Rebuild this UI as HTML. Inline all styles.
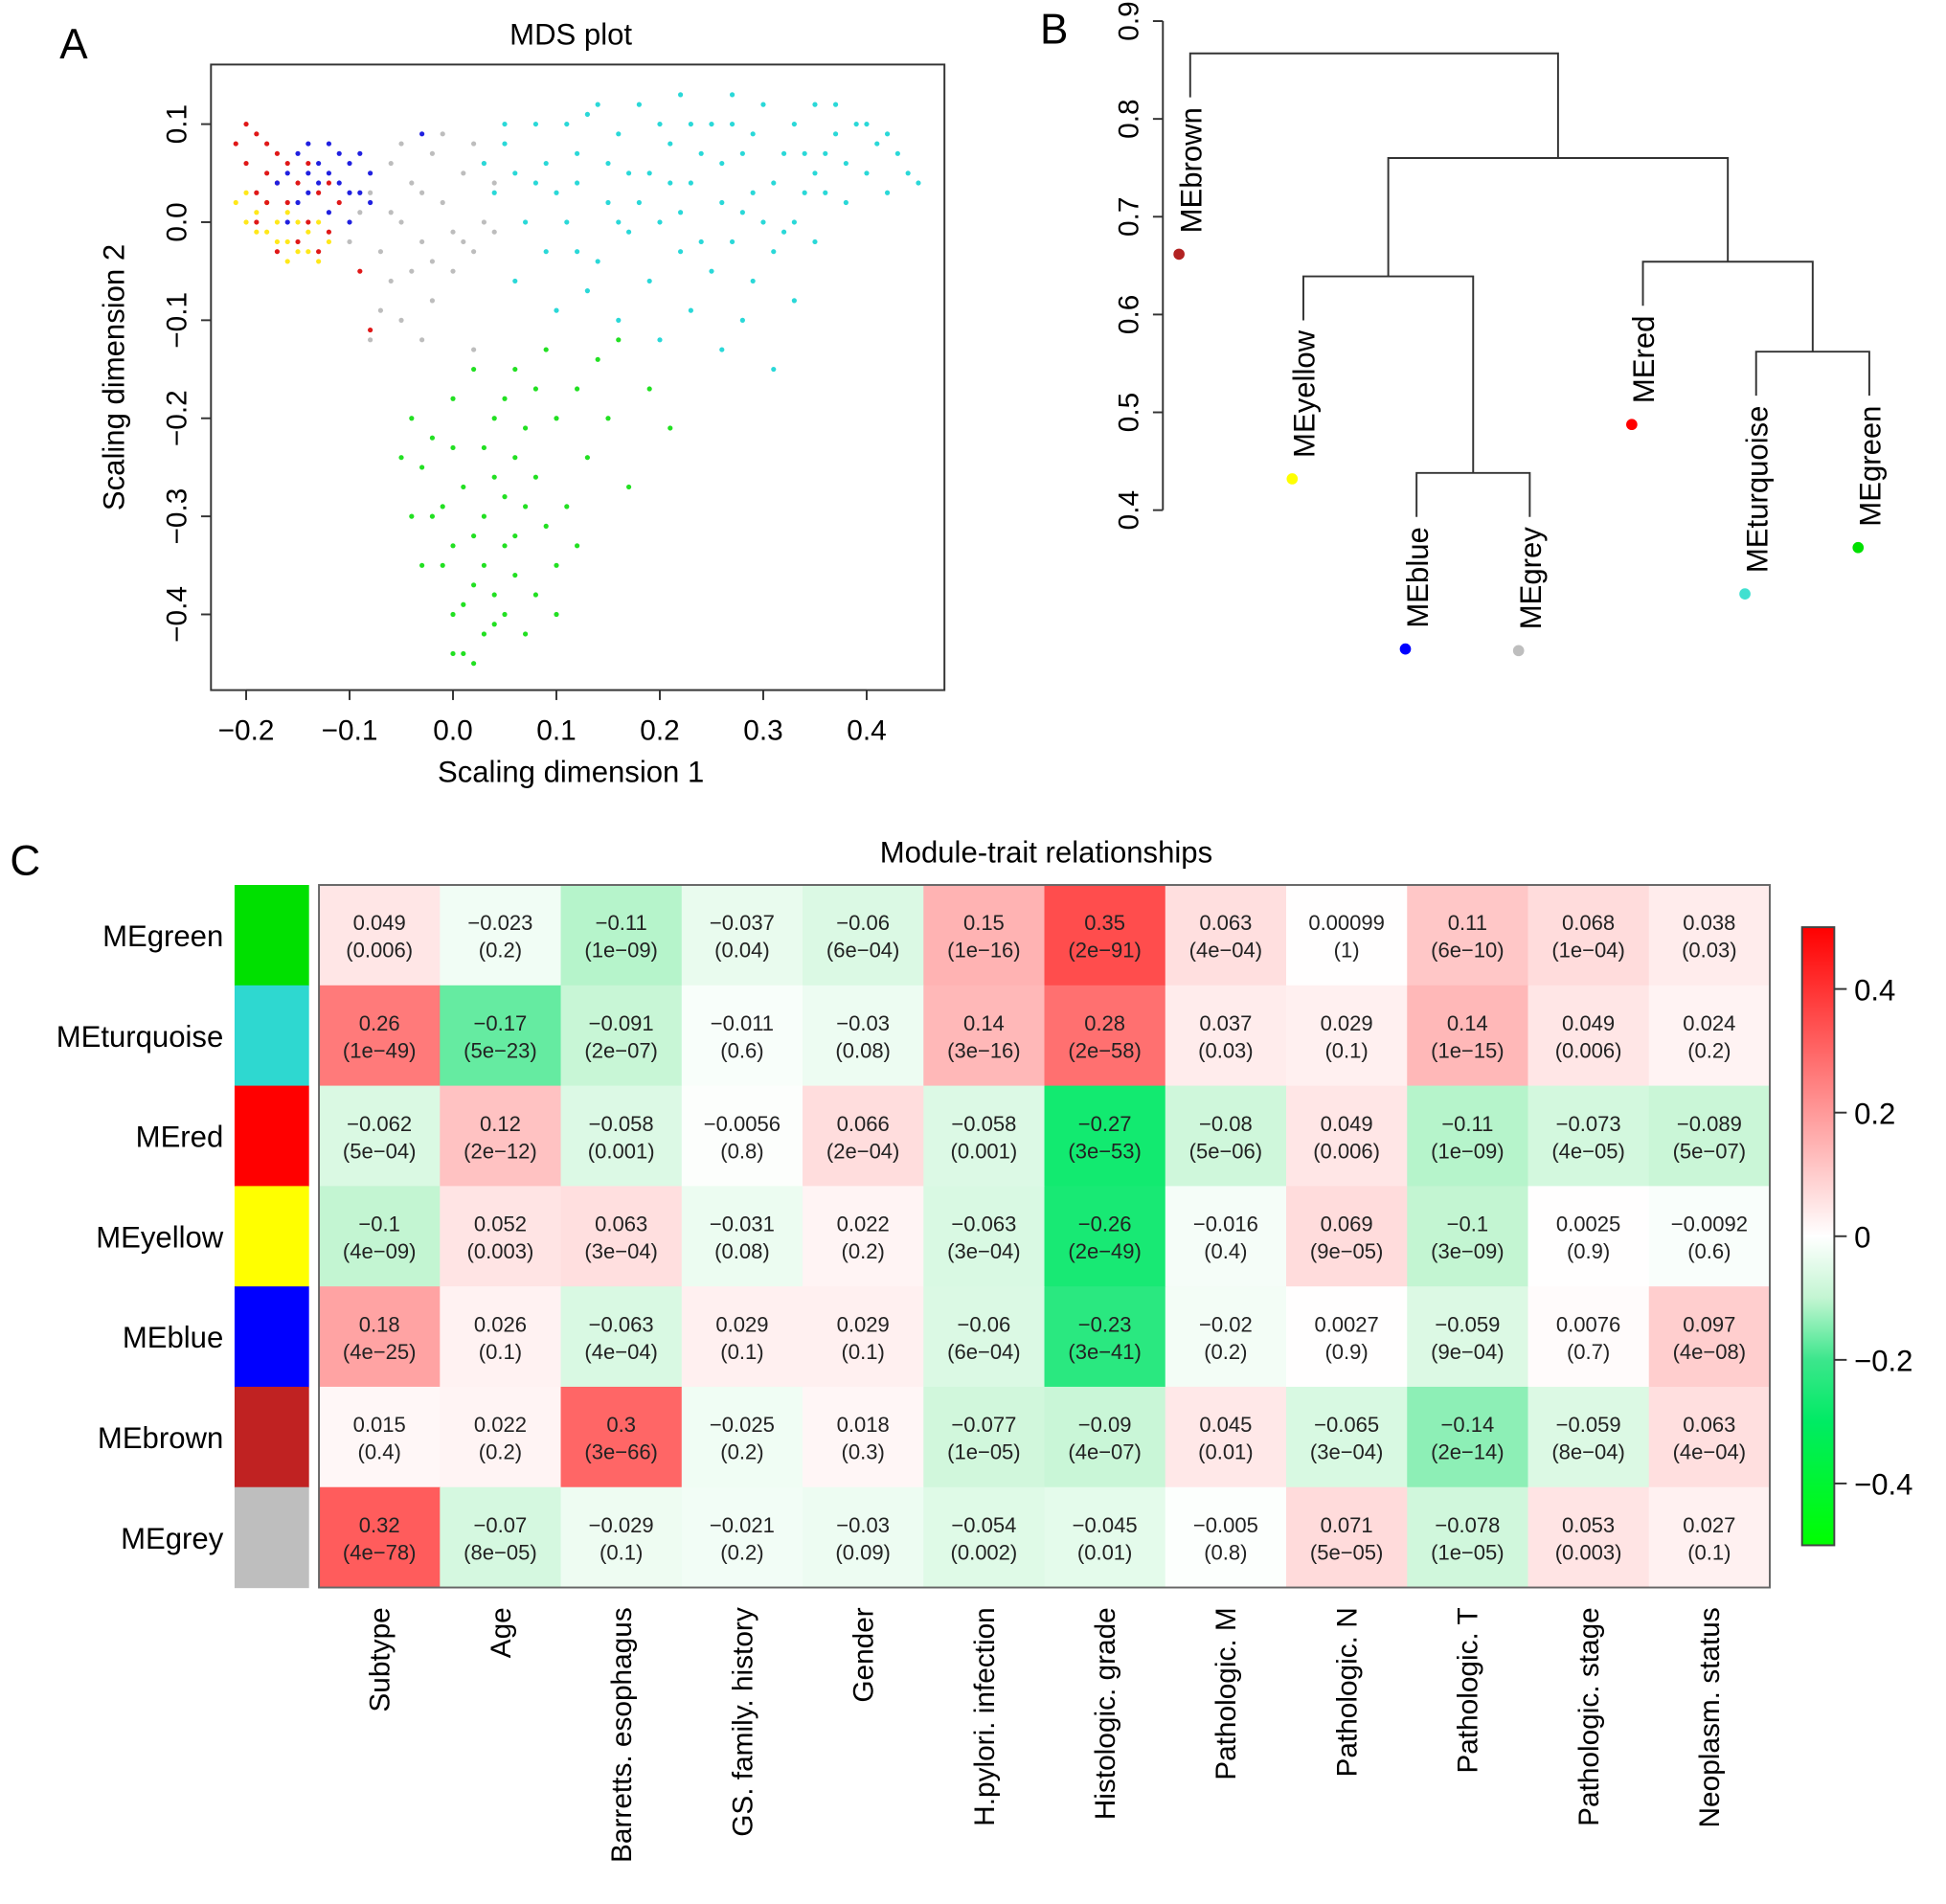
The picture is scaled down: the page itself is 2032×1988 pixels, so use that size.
<!DOCTYPE html>
<html><head><meta charset="utf-8"><style>
html,body{margin:0;padding:0;background:#fff;}
svg{display:block;font-family:"Liberation Sans",Arial,sans-serif;}
</style></head><body>
<svg id="fig" xmlns="http://www.w3.org/2000/svg" width="2032" height="1988" viewBox="0 0 1568 1534" preserveAspectRatio="none">
<rect x="0" y="0" width="1568" height="1534" fill="#fff"/>
<text x="48" y="47" font-size="34">A</text>
<text x="838" y="35" font-size="34">B</text>
<text x="8" y="705" font-size="34">C</text>
<g id="mds"></g>
<g id="dendro"></g>
<g id="heat"></g>
</svg>
<script>
// ---------- MDS data ----------
const mdsTurquoise=[[0.05,0.08],[0.06,0.05],[0.08,0.1],[0.1,0.03],[0.12,0.07],[0.13,0.11],[0.15,0.02],[0.16,0.09],[0.18,0.12],[0.19,0.05],[0.2,0.0],[0.21,0.08],[0.22,0.13],[0.23,0.04],[0.24,-0.02],[0.25,0.1],[0.26,0.06],[0.27,0.13],[0.28,0.01],[0.29,0.09],[0.3,0.12],[0.31,0.04],[0.32,-0.01],[0.33,0.1],[0.34,0.07],[0.35,0.12],[0.36,0.03],[0.37,0.09],[0.38,0.06],[0.39,0.1],[0.4,0.05],[0.41,0.08],[0.42,0.03],[0.43,0.07],[0.44,0.05],[0.45,0.04],[0.07,0.0],[0.09,-0.03],[0.11,0.0],[0.14,-0.04],[0.17,-0.01],[0.19,-0.06],[0.22,-0.03],[0.25,-0.05],[0.27,-0.02],[0.29,-0.06],[0.31,-0.03],[0.33,0.0],[0.35,-0.02],[0.06,-0.06],[0.1,-0.09],[0.13,-0.07],[0.16,-0.1],[0.2,-0.12],[0.23,-0.09],[0.26,-0.13],[0.28,-0.1],[0.31,-0.15],[0.33,-0.08],[0.04,0.03],[0.05,0.1],[0.09,0.06],[0.12,0.04],[0.15,0.06],[0.17,0.05],[0.2,0.1],[0.24,0.07],[0.26,0.02],[0.28,0.07],[0.3,0.0],[0.32,0.07],[0.34,0.03],[0.36,0.07],[0.38,0.02],[0.4,0.1],[0.18,0.02],[0.21,0.04],[0.23,0.1],[0.11,0.1],[0.14,0.12],[0.08,0.04],[0.03,0.06],[0.27,0.1],[0.37,0.12],[0.42,0.09],[0.22,0.01],[0.16,0.0],[0.12,-0.03],[0.29,0.03],[0.35,0.05]];
const mdsGreen=[[-0.04,-0.2],[-0.03,-0.25],[-0.02,-0.3],[-0.01,-0.35],[0.0,-0.4],[0.01,-0.44],[0.02,-0.45],[0.03,-0.42],[0.04,-0.38],[0.05,-0.33],[0.05,-0.28],[0.06,-0.24],[0.04,-0.2],[0.02,-0.15],[0.0,-0.18],[-0.02,-0.22],[0.01,-0.27],[0.03,-0.3],[0.0,-0.33],[0.02,-0.37],[0.04,-0.41],[0.01,-0.39],[-0.01,-0.29],[0.03,-0.23],[0.05,-0.18],[0.07,-0.21],[0.08,-0.26],[0.09,-0.31],[0.1,-0.35],[0.08,-0.38],[0.07,-0.42],[0.06,-0.36],[0.07,-0.29],[0.1,-0.2],[0.12,-0.17],[0.13,-0.24],[0.15,-0.2],[0.17,-0.27],[0.19,-0.17],[0.21,-0.21],[0.11,-0.29],[0.06,-0.15],[0.09,-0.13],[-0.04,-0.3],[-0.03,-0.35],[-0.05,-0.24],[0.0,-0.23],[0.02,-0.32],[0.04,-0.26],[0.03,-0.35],[0.05,-0.4],[0.0,-0.44],[0.06,-0.32],[0.1,-0.4],[0.12,-0.33],[0.08,-0.17],[0.14,-0.14],[0.16,-0.12]];
const mdsGrey=[[-0.08,0.03],[-0.06,0.06],[-0.05,0.0],[-0.04,0.04],[-0.03,-0.02],[-0.02,0.07],[-0.01,0.02],[0.0,-0.01],[0.01,0.05],[0.02,0.08],[0.03,0.0],[0.04,0.04],[-0.07,-0.03],[-0.06,-0.06],[-0.04,-0.05],[-0.02,-0.08],[0.0,-0.05],[0.02,-0.03],[-0.05,-0.1],[-0.08,-0.12],[0.02,-0.13],[-0.09,0.01],[-0.01,0.09],[0.03,0.06],[-0.03,0.03],[-0.05,0.08],[0.01,-0.02],[-0.06,0.01],[-0.02,-0.04],[0.04,-0.01],[-0.1,-0.02],[-0.07,-0.09],[-0.03,-0.12]];
const mdsBlue=[[-0.16,0.05],[-0.15,0.07],[-0.14,0.03],[-0.13,0.06],[-0.12,0.08],[-0.11,0.04],[-0.1,0.06],[-0.09,0.03],[-0.08,0.05],[-0.12,0.01],[-0.14,0.05],[-0.1,0.0],[-0.11,0.07],[-0.13,0.04],[-0.09,0.07],[-0.15,0.02],[-0.17,0.04],[-0.16,0.0],[-0.08,0.02],[-0.12,0.05],[-0.03,0.09],[-0.14,0.08],[-0.1,0.03]];
const mdsRed=[[-0.2,0.1],[-0.19,0.09],[-0.18,0.08],[-0.2,0.06],[-0.19,0.03],[-0.18,0.05],[-0.17,0.07],[-0.16,0.02],[-0.15,0.04],[-0.14,0.0],[-0.13,0.03],[-0.12,-0.01],[-0.17,-0.03],[-0.15,-0.02],[-0.11,0.02],[-0.19,0.0],[-0.16,0.06],[-0.14,0.06],[-0.18,0.02],[-0.13,-0.03],[-0.12,0.04],[-0.09,-0.05],[-0.08,-0.11],[-0.21,0.08],[-0.17,0.04]];
const mdsYellow=[[-0.21,0.02],[-0.2,0.0],[-0.19,0.01],[-0.18,-0.01],[-0.17,0.0],[-0.16,-0.02],[-0.15,-0.03],[-0.14,-0.01],[-0.13,-0.04],[-0.18,0.02],[-0.16,0.01],[-0.14,-0.03],[-0.12,-0.02],[-0.2,0.03],[-0.17,-0.02],[-0.15,0.0],[-0.19,-0.01],[-0.13,0.0],[-0.16,-0.04]];
const mdsXTicks=[-0.2,-0.1,0.0,0.1,0.2,0.3,0.4];
const mdsYTicks=[0.1,0.0,-0.1,-0.2,-0.3,-0.4];
// ---------- Dendrogram data ----------
const leafNames=["MEbrown","MEyellow","MEblue","MEgrey","MEred","MEturquoise","MEgreen"];
const leafColors=["#b22222","#ffff00","#0000ff","#bebebe","#ff0000","#40e0d0","#00e000"];
// negative = leaf index (-(i+1)), positive = merge index (1-based)
const mergeLeft=[-3,-6,-2,-5,3,-1];
const mergeRight=[-4,-7,1,2,4,5];
const mergeHeight=[0.438,0.562,0.639,0.654,0.76,0.867];
const dendroTicks=[0.4,0.5,0.6,0.7,0.8,0.9];
// ---------- Heatmap data ----------
const moduleNames=["MEgreen","MEturquoise","MEred","MEyellow","MEblue","MEbrown","MEgrey"];
const moduleColors=["#00e000","#2ed8d0","#ff0000","#ffff00","#0000ff","#c02222","#bebebe"];
const traitNames=["Subtype","Age","Barretts. esophagus","GS. family. history","Gender","H.pylori. infection","Histologic. grade","Pathologic. M","Pathologic. N","Pathologic. T","Pathologic. stage","Neoplasm. status"];
const corGreen=[0.049,-0.023,-0.11,-0.037,-0.06,0.15,0.35,0.063,0.00099,0.11,0.068,0.038];
const corTurquoise=[0.26,-0.17,-0.091,-0.011,-0.03,0.14,0.28,0.037,0.029,0.14,0.049,0.024];
const corRed=[-0.062,0.12,-0.058,-0.0056,0.066,-0.058,-0.27,-0.08,0.049,-0.11,-0.073,-0.089];
const corYellow=[-0.1,0.052,0.063,-0.031,0.022,-0.063,-0.26,-0.016,0.069,-0.1,0.0025,-0.0092];
const corBlue=[0.18,0.026,-0.063,0.029,0.029,-0.06,-0.23,-0.02,0.0027,-0.059,0.0076,0.097];
const corBrown=[0.015,0.022,0.3,-0.025,0.018,-0.077,-0.09,0.045,-0.065,-0.14,-0.059,0.063];
const corGrey=[0.32,-0.07,-0.029,-0.021,-0.03,-0.054,-0.045,-0.005,0.071,-0.078,0.053,0.027];
const pGreen=["0.006","0.2","1e-09","0.04","6e-04","1e-16","2e-91","4e-04","1","6e-10","1e-04","0.03"];
const pTurquoise=["1e-49","5e-23","2e-07","0.6","0.08","3e-16","2e-58","0.03","0.1","1e-15","0.006","0.2"];
const pRed=["5e-04","2e-12","0.001","0.8","2e-04","0.001","3e-53","5e-06","0.006","1e-09","4e-05","5e-07"];
const pYellow=["4e-09","0.003","3e-04","0.08","0.2","3e-04","2e-49","0.4","9e-05","3e-09","0.9","0.6"];
const pBlue=["4e-25","0.1","4e-04","0.1","0.1","6e-04","3e-41","0.2","0.9","9e-04","0.7","4e-08"];
const pBrown=["0.4","0.2","3e-66","0.2","0.3","1e-05","4e-07","0.01","3e-04","2e-14","8e-04","4e-04"];
const pGrey=["4e-78","8e-05","0.1","0.2","0.09","0.002","0.01","0.8","5e-05","1e-05","0.003","0.1"];
const legendTicks=[0.4,0.2,0,-0.2,-0.4];

const NS="http://www.w3.org/2000/svg";
function mk(tag,attrs,parent,text){const e=document.createElementNS(NS,tag);for(const k in attrs)e.setAttribute(k,attrs[k]);if(text!==undefined)e.textContent=text;parent.appendChild(e);return e;}
const fmt=v=>String(v).replace(/-/g,'\u2212');

// ===== MDS =====
(function(){
const g=document.getElementById('mds');
const X0=170,X1=761,Y0=52,Y1=556;
const sx=v=>365+v*833.3, sy=v=>179-v*790;
let t=mk('text',{x:460,y:36,'font-size':24,'text-anchor':'middle'},g,'MDS plot');


const groups=[[mdsGrey,'#bdbdbd','grey'],[mdsTurquoise,'#2ad8d8','turquoise'],[mdsGreen,'#22e022','green'],[mdsYellow,'#ffe81a','yellow'],[mdsRed,'#e01818','red'],[mdsBlue,'#2020e0','blue']];
groups.forEach(([arr,col,nm])=>{
  const pg=mk('g',{fill:col},g);
  
  
  arr.forEach(p=>{
    const c=mk('circle',{cx:sx(p[0]),cy:sy(p[1]),r:2},pg);
    
    
  });
});
const box=mk('rect',{x:X0,y:Y0,width:X1-X0,height:Y1-Y0,fill:'none',stroke:'#333','stroke-width':1.5},g);


const xa=mk('g',{},g);


mk('line',{x1:sx(mdsXTicks[0]),x2:sx(mdsXTicks[mdsXTicks.length-1]),y1:Y1,y2:Y1,stroke:'#333','stroke-width':1.5},xa);
mdsXTicks.forEach(v=>{
  mk('line',{x1:sx(v),x2:sx(v),y1:Y1,y2:Y1+8,stroke:'#333','stroke-width':1.5},xa);
  const tl=mk('text',{x:sx(v),y:Y1+40,'font-size':23,'text-anchor':'middle'},xa,fmt(v.toFixed(1)));
  
  
});
const ya=mk('g',{},g);


mdsYTicks.forEach(v=>{
  mk('line',{x1:X0-8,x2:X0,y1:sy(v),y2:sy(v),stroke:'#333','stroke-width':1.5},ya);
  const tl=mk('text',{x:0,y:0,'font-size':23,'text-anchor':'middle',transform:`translate(${X0-20},${sy(v)}) rotate(-90)`},ya,fmt(v.toFixed(1)));
  
  
});
t=mk('text',{x:460,y:630,'font-size':24,'text-anchor':'middle'},g,'Scaling dimension 1');


t=mk('text',{x:0,y:0,'font-size':24,'text-anchor':'middle',transform:'translate(100,304) rotate(-90)'},g,'Scaling dimension 2');


})();

// ===== Dendrogram =====
(function(){
const g=document.getElementById('dendro');
const hy=v=>17+(0.9-v)*788;
const lx=i=>959+i*91.2;
const AX=937;
mk('line',{x1:AX,x2:AX,y1:hy(0.9),y2:hy(0.4),stroke:'#333','stroke-width':1.5},g);
dendroTicks.forEach(v=>{
  mk('line',{x1:AX-8,x2:AX,y1:hy(v),y2:hy(v),stroke:'#333','stroke-width':1.5},g);
  const tl=mk('text',{x:0,y:0,'font-size':23,'text-anchor':'middle',transform:`translate(${AX-20},${hy(v)}) rotate(-90)`},g,v.toFixed(1));
  
  
});
const pos={};
function node(ref){ if(ref<0){const i=-ref-1;return {x:lx(i),y:null,leaf:i};} return pos[ref]; }
const hang=0.045;
for(let m=0;m<mergeHeight.length;m++){
  const a=node(mergeLeft[m]),b=node(mergeRight[m]);
  if(!a||!b) continue;
  const y=hy(mergeHeight[m]);
  const ya=a.leaf!==undefined?y+hang*788:a.y;
  const yb=b.leaf!==undefined?y+hang*788:b.y;
  const ln=mk('path',{d:`M${a.x},${ya}V${y}H${b.x}V${yb}`,fill:'none',stroke:'#333','stroke-width':1.5},g);
  
  
  [a,b].forEach(n=>{ if(n.leaf!==undefined){
    const top=y+hang*788+8;
    const lt=mk('text',{x:0,y:0,'font-size':24,'text-anchor':'end',transform:`translate(${n.x+9},${top}) rotate(-90)`},g,leafNames[n.leaf]);
    
    
    let len=110;
    try{len=lt.getComputedTextLength();}catch(e){}
    const d=mk('circle',{cx:n.x-9,cy:top+len+17,r:4.5,fill:leafColors[n.leaf]},g);
    
    
  }});
  pos[m+1]={x:(a.x+b.x)/2,y:y};
}
})();

// ===== Heatmap =====
(function(){
const g=document.getElementById('heat');
const HX0=257,HX1=1426,HY0=713,HY1=1279;
const cw=(HX1-HX0)/traitNames.length, ch=(HY1-HY0)/moduleNames.length;
const corRows=[corGreen,corTurquoise,corRed,corYellow,corBlue,corBrown,corGrey];
const pRows=[pGreen,pTurquoise,pRed,pYellow,pBlue,pBrown,pGrey];
const stops=[[-0.5,[0,255,0]],[-0.3,[0,235,100]],[-0.2,[60,230,140]],[-0.1,[195,245,210]],[0,[255,255,255]],[0.5,[255,0,0]]];
function col(v){v=Math.max(-0.5,Math.min(0.5,v));for(let i=0;i<stops.length-1;i++){const[a,ca]=stops[i],[b,cb]=stops[i+1];if(v>=a&&v<=b){const t=(v-a)/(b-a);return 'rgb('+ca.map((c,k)=>Math.round(c+(cb[k]-c)*t)).join(',')+')';}}return '#fff';}
let t=mk('text',{x:843,y:695,'font-size':24,'text-anchor':'middle'},g,'Module-trait relationships');


moduleNames.forEach((nm,r)=>{
  const y=HY0+r*ch;
  const sw=mk('rect',{x:189,y:y,width:60,height:ch+0.5,fill:moduleColors[r]},g);
  
  
  const rl=mk('text',{x:180,y:y+ch/2+9,'font-size':24,'text-anchor':'end'},g,nm);
  
  
  corRows[r].forEach((v,c)=>{
    const x=HX0+c*cw;
    const cell=mk('rect',{x:x,y:y,width:cw+0.5,height:ch+0.5,fill:col(v)},g);
    
    
    const t1=mk('text',{x:x+cw/2,y:y+ch/2-4,'font-size':17,'text-anchor':'middle',fill:'#222'},g,fmt(v));
    
    
    const t2=mk('text',{x:x+cw/2,y:y+ch/2+18,'font-size':17,'text-anchor':'middle',fill:'#222'},g,'('+fmt(pRows[r][c])+')');
    
    
  });
});
const fr=mk('rect',{x:HX0,y:HY0,width:HX1-HX0,height:HY1-HY0,fill:'none',stroke:'#666','stroke-width':1.5},g);


traitNames.forEach((nm,c)=>{
  const x=HX0+c*cw+cw/2;
  const tl=mk('text',{x:0,y:0,'font-size':23,'text-anchor':'end',transform:`translate(${x+8},${HY1+16}) rotate(-90)`},g,nm);
  
  
});
const LX=1452,LW=26,LY0=747,LY1=1245;
const ly=v=>LY0+(0.5-v)*(LY1-LY0);
const defs=mk('defs',{},g);
const grad=mk('linearGradient',{id:'lg',x1:0,y1:1,x2:0,y2:0},defs);
stops.forEach(([v,c])=>mk('stop',{offset:(v+0.5),'stop-color':'rgb('+c.join(',')+')'},grad));
const lb=mk('rect',{x:LX,y:LY0,width:LW,height:LY1-LY0,fill:'url(#lg)',stroke:'#444','stroke-width':1.5},g);


legendTicks.forEach(v=>{
  mk('line',{x1:LX+LW,x2:LX+LW+10,y1:ly(v),y2:ly(v),stroke:'#333','stroke-width':1.5},g);
  const tl=mk('text',{x:LX+LW+16,y:ly(v)+9,'font-size':24},g,fmt(v));
  
  
});
})();
</script>
</body></html>
